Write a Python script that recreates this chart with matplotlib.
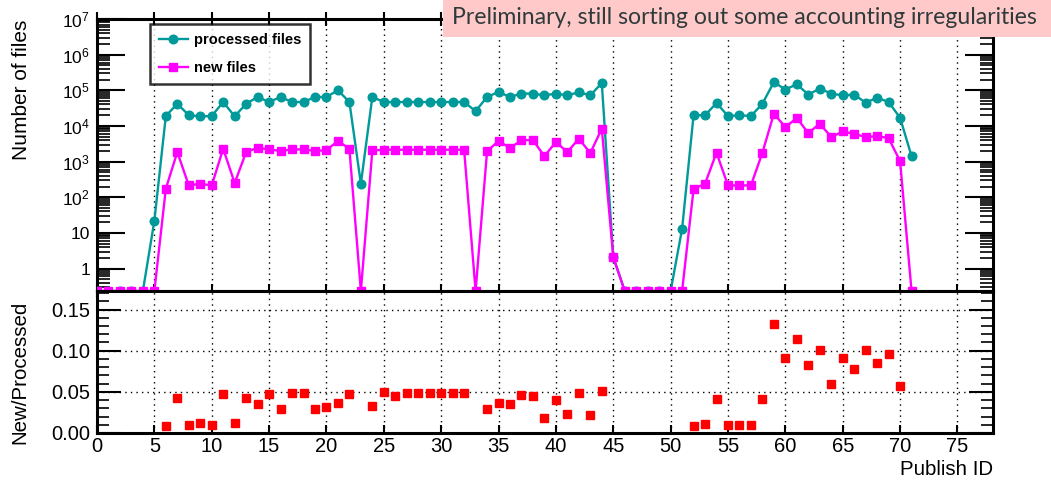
import numpy as np
import matplotlib
matplotlib.use("Agg")
import matplotlib.pyplot as plt
from matplotlib.ticker import FixedLocator, FuncFormatter, LogLocator, MultipleLocator, NullFormatter

plt.rcParams['font.family'] = ['Liberation Sans', 'DejaVu Sans']
plt.rcParams['mathtext.fontset'] = 'custom'
plt.rcParams['mathtext.rm'] = 'Liberation Sans'
plt.rcParams['mathtext.it'] = 'Liberation Sans:italic'

# ---------------- data ----------------
publish_id = list(range(0, 72))

processed_files = [
    0, 0, 0, 0, 0, 22, 19000, 42000, 20000, 18600,
    19000, 47000, 18600, 42000, 65000, 47000, 65000, 47000, 47000, 65000,
    65000, 100000, 47000, 240, 65000, 47000, 47000, 47000, 47000, 47000,
    47000, 47000, 47000, 26000, 65000, 90000, 65000, 81000, 81000, 72000,
    81000, 72000, 89000, 72000, 160000, 2.1, 0, 0, 0, 0,
    0, 13, 20000, 20000, 44000, 19000, 20000, 19000, 42000, 170000,
    105000, 148000, 76000, 112000, 81000, 72000, 76000, 45000, 62000, 47000,
    17000, 1420,
]

new_files = [
    0, 0, 0, 0, 0, 0, 174, 1850, 215, 240,
    215, 2300, 250, 1850, 2450, 2200, 1990, 2200, 2200, 1990,
    2100, 3800, 2300, 0, 2050, 2150, 2150, 2150, 2150, 2150,
    2150, 2150, 2150, 0, 1950, 3800, 2400, 4000, 4000, 1420,
    3550, 1850, 4400, 1730, 8400, 2.1, 0, 0, 0, 0,
    0, 0, 170, 240, 1780, 215, 215, 215, 1780, 22000,
    9300, 16700, 6300, 11600, 4900, 7000, 6000, 4900, 5200, 4570,
    1030, 0,
]

ratio_id = [6, 7, 8, 9, 10, 11, 12, 13, 14, 15, 16, 17, 18, 19, 20, 21, 22,
            24, 25, 26, 27, 28, 29, 30, 31, 32,
            34, 35, 36, 37, 38, 39, 40, 41, 42, 43, 44,
            52, 53, 54, 55, 56, 57, 58, 59, 60, 61, 62, 63, 64, 65, 66, 67, 68, 69, 70]
ratio_val = [0.0085, 0.042, 0.0102, 0.0122, 0.0102, 0.0476, 0.0122, 0.042, 0.0347, 0.0476,
             0.0295, 0.048, 0.048, 0.0295, 0.031, 0.036, 0.0476,
             0.0323, 0.0492, 0.045, 0.0487, 0.049, 0.0487, 0.0487, 0.0487, 0.049,
             0.0295, 0.0363, 0.0351, 0.0456, 0.0444, 0.0187, 0.0404, 0.0235, 0.048, 0.022, 0.0512,
             0.0085, 0.0114, 0.0416, 0.0102, 0.0102, 0.0102, 0.0416, 0.133, 0.0913, 0.1139,
             0.0825, 0.1014, 0.0592, 0.0913, 0.0777, 0.1006, 0.0845, 0.0954, 0.0572]

x_tick_labels = ["0", "5", "10", "15", "20", "25", "30", "35", "40", "45",
                 "50", "55", "60", "65", "70", "75"]

# ---------------- figure ----------------
W, H = 1051, 480
fig = plt.figure(figsize=(W / 100, H / 100), dpi=100)

def box(l, t, r, b):
    return [l / W, 1 - b / H, (r - l) / W, (b - t) / H]

ax1 = fig.add_axes(box(97, 19, 993, 291))
ax2 = fig.add_axes(box(97, 291, 993, 433))

XMIN, XMAX = 0, 78.1
YMIN, YMAX = 0.235, 1e7

teal = "#009a9a"
mag = "#ff00ff"

x = np.array(publish_id, dtype=float)
proc = np.array(processed_files, dtype=float)
new = np.array(new_files, dtype=float)
proc_plot = np.where(proc > 0, proc, YMIN)
new_plot = np.where(new > 0, new, YMIN)

ax1.plot(x, proc_plot, '-o', color=teal, lw=1.7, ms=6.2, mec=teal, label='processed files', zorder=3)
ax1.plot(x, new_plot, '-s', color=mag, lw=1.7, ms=5.5, mec=mag, label='new files', zorder=4)
ax1.set_yscale('log')
ax1.set_xlim(XMIN, XMAX)
ax1.set_ylim(YMIN, YMAX)

ax2.plot(ratio_id, ratio_val, 's', color='#ff0000', ms=5.2, mec='#ff0000', lw=0, zorder=3)
ax2.set_xlim(XMIN, XMAX)
ax2.set_ylim(0, 0.1725)

major_x = [5 * i for i in range(len(x_tick_labels))]
for ax in (ax1, ax2):
    for s in ax.spines.values():
        s.set_linewidth(2.2)
    for xv in major_x[1:]:
        ax.axvline(xv, color='black', lw=1.0, ls=(0, (1, 3)), zorder=1)

for yv in (0.05, 0.10, 0.15):
    ax2.axhline(yv, color='black', lw=1.0, ls=(0, (1, 3)), zorder=1)

# top panel ticks
ax1.xaxis.set_major_locator(FixedLocator(major_x))
ax1.tick_params(axis='x', which='major', direction='inout', length=10, width=1.5,
                top=True, bottom=True, labelbottom=False)
ax1.yaxis.set_major_locator(FixedLocator([10.0 ** k for k in range(0, 8)]))
ax1.yaxis.set_minor_locator(LogLocator(base=10, subs=np.arange(2, 10), numticks=30))
ax1.yaxis.set_minor_formatter(NullFormatter())

def logfmt(v, pos):
    k = int(round(np.log10(v)))
    if k == 0:
        return "1"
    if k == 1:
        return "10"
    return r"$10^{%d}$" % k

ax1.yaxis.set_major_formatter(FuncFormatter(logfmt))
ax1.tick_params(axis='y', which='major', direction='in', length=20, width=1.5,
                left=True, right=True, labelsize=12.5, pad=5)
ax1.tick_params(axis='y', which='minor', direction='in', length=9.5, width=1.2,
                left=True, right=True)

# bottom panel ticks
ax2.xaxis.set_major_locator(FixedLocator(major_x))
ax2.set_xticklabels(x_tick_labels)
ax2.tick_params(axis='x', which='major', direction='in', length=6, width=1.5,
                bottom=True, top=False, labelsize=14.5, pad=3)
ax2.yaxis.set_major_locator(FixedLocator([0.0, 0.05, 0.10, 0.15]))
ax2.yaxis.set_major_formatter(FuncFormatter(lambda v, p: "%.2f" % v))
ax2.yaxis.set_minor_locator(MultipleLocator(0.01))
ax2.tick_params(axis='y', which='major', direction='in', length=17, width=1.5,
                left=True, right=True, labelsize=14.5, pad=5)
ax2.tick_params(axis='y', which='minor', direction='in', length=8.5, width=1.2,
                left=True, right=True)

# axis titles
fig.text(22 / W, 1 - 20 / H, "Number of files", rotation=90, ha='center', va='top', fontsize=15)
fig.text(20 / W, 1 - 372 / H, "New/Processed", rotation=90, ha='center', va='center', fontsize=14.8)
fig.text(993 / W, 1 - 475 / H, "Publish ID", ha='right', va='baseline', fontsize=14.8)

# legend
leg = ax1.legend(loc='upper left', bbox_to_anchor=(box(150, 24, 312, 84)[0], 1 - 24 / H),
                 bbox_transform=fig.transFigure, frameon=True, fancybox=False,
                 prop={'weight': 'bold', 'size': 10.5}, handlelength=2.0,
                 borderpad=0.6, labelspacing=1.0, handletextpad=0.4, borderaxespad=0)
leg.get_frame().set_edgecolor('black')
leg.get_frame().set_linewidth(1.8)

# banner
fig.patches.append(plt.Rectangle((443 / W, 1 - 37 / H), (W - 443) / W, 37 / H,
                                 transform=fig.transFigure, facecolor='#ffc9c9',
                                 edgecolor='none', zorder=10))
fig.text(452 / W, 1 - 18 / H, "Preliminary, still sorting out some accounting irregularities",
         ha='left', va='center', fontsize=16.6, color='#2f3a3a', family=['Lato', 'DejaVu Sans'],
         zorder=11)

fig.savefig("out.png", dpi=100)
